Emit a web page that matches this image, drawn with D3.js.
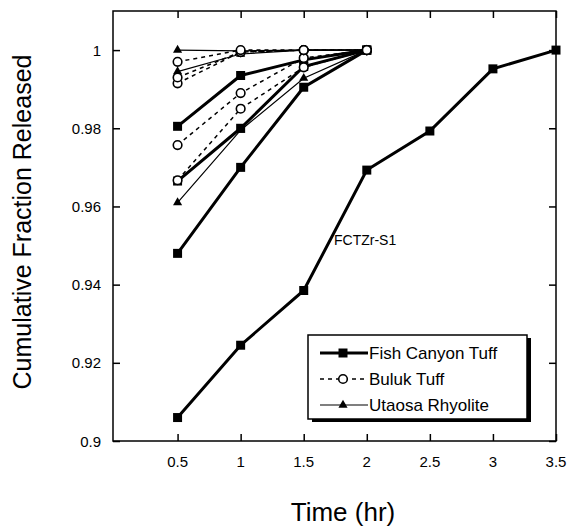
<!DOCTYPE html>
<html>
<head>
<meta charset="utf-8">
<script src="https://cdn.jsdelivr.net/npm/d3@7"></script>
<style>
  body { margin: 0; background: #fff; }
  text { font-family: "Liberation Sans", Arial, Helvetica, sans-serif; fill: #000; }
</style>
</head>
<body>
<div id="chart"></div>
<script>
  // time steps (hr)
  let times = [0.5, 1, 1.5, 2, 2.5, 3, 3.5]

  // Fish Canyon Tuff runs
  let fishS1 = [0.906, 0.9245, 0.9385, 0.9693, 0.9793, 0.9952, 1.0]
  let fish2  = [0.948, 0.970, 0.9905, 1.0]
  let fish3  = [0.9805, 0.9935, 0.9975, 1.0]
  let fish4  = [0.9665, 0.980, 0.9958, 1.0]

  // Buluk Tuff runs
  let buluk1 = [0.9757, 0.989, 0.998, 1.0]
  let buluk2 = [0.9667, 0.985, 0.9956, 1.0]
  let buluk3 = [0.9915, 0.9995, 1.0, 1.0]
  let buluk4 = [0.993, 0.9995, 1.0, 1.0]
  let buluk5 = [0.997, 1.0, 1.0, 1.0]

  // Utaosa Rhyolite runs
  let utaosa1 = [1.0, 0.9998, 1.0, 1.0]
  let utaosa2 = [0.9945, 0.999, 1.0, 1.0]
  let utaosa3 = [0.961, 0.9795, 0.9928, 1.0]

  let xTicks      = [0.5, 1, 1.5, 2, 2.5, 3, 3.5]
  let xTickLabels = ['0.5', '1', '1.5', '2', '2.5', '3', '3.5']
  let yTicks      = [0.9, 0.92, 0.94, 0.96, 0.98, 1]
  let yTickLabels = ['0.9', '0.92', '0.94', '0.96', '0.98', '1']

  let seriesNames = ['Fish Canyon Tuff', 'Buluk Tuff', 'Utaosa Rhyolite']

  let width = 568, height = 526,
      mLeft = 113, mRight = 556, mTop = 11, mBottom = 441

  let x = d3.scaleLinear().domain([0, 3.5]).range([mLeft + 1.5, mRight])
  let y = d3.scaleLinear().domain([0.9, 1.01]).range([mBottom, mTop])

  let styles = {
    fish:   { width: 3,   dash: null,  marker: 'square' },
    buluk:  { width: 1.5, dash: '4,4', marker: 'circle' },
    utaosa: { width: 1.2, dash: null,  marker: 'triangle' }
  }

  let runs = [
    { kind: 'utaosa', values: utaosa1 },
    { kind: 'utaosa', values: utaosa2 },
    { kind: 'utaosa', values: utaosa3 },
    { kind: 'fish',   values: fish2 },
    { kind: 'fish',   values: fish3 },
    { kind: 'fish',   values: fish4 },
    { kind: 'fish',   values: fishS1 },
    { kind: 'buluk',  values: buluk1 },
    { kind: 'buluk',  values: buluk2 },
    { kind: 'buluk',  values: buluk3 },
    { kind: 'buluk',  values: buluk4 },
    { kind: 'buluk',  values: buluk5 }
  ].map(function(r) {
    r.points = r.values.map(function(v, i) { return { t: times[i], v: v } })
    return r })

  let svg = d3.select('#chart')
              .append('svg:svg')
              .attr('width', width)
              .attr('height', height)

  let line = d3.line()
               .x(function(d) { return x(d.t) })
               .y(function(d) { return y(d.v) })

  // frame
  svg.append('rect')
    .attr('x', mLeft).attr('y', mTop)
    .attr('width', mRight - mLeft).attr('height', mBottom - mTop)
    .attr('fill', 'none').attr('stroke', '#000').attr('stroke-width', 1.5)

  // axes with inward ticks on all four sides
  svg.append('g')
    .attr('transform', 'translate(0,' + mBottom + ')')
    .call(d3.axisTop(x).tickValues(xTicks).tickSize(7).tickFormat(''))
  svg.append('g')
    .attr('transform', 'translate(0,' + mTop + ')')
    .call(d3.axisBottom(x).tickValues(xTicks).tickSize(7).tickFormat(''))
  svg.append('g')
    .attr('transform', 'translate(' + mLeft + ',0)')
    .call(d3.axisRight(y).tickValues(yTicks).tickSize(7).tickFormat(''))
  svg.append('g')
    .attr('transform', 'translate(' + mRight + ',0)')
    .call(d3.axisLeft(y).tickValues(yTicks).tickSize(7).tickFormat(''))
  svg.selectAll('.domain').remove()
  svg.selectAll('.tick line').attr('stroke-width', 1.5)

  // tick labels
  svg.selectAll('text.xlab').data(xTicks)
    .enter().append('text')
      .attr('class', 'xlab')
      .attr('x', function(d) { return x(d) })
      .attr('y', 467)
      .attr('text-anchor', 'middle')
      .attr('font-size', 15)
      .text(function(d, i) { return xTickLabels[i] })

  svg.selectAll('text.ylab').data(yTicks)
    .enter().append('text')
      .attr('class', 'ylab')
      .attr('x', 101)
      .attr('y', function(d) { return y(d) + 5.5 })
      .attr('text-anchor', 'end')
      .attr('font-size', 15)
      .text(function(d, i) { return yTickLabels[i] })

  // axis titles
  svg.append('text')
    .attr('transform', 'translate(31,222) rotate(-90)')
    .attr('text-anchor', 'middle')
    .attr('font-size', 25)
    .text('Cumulative Fraction Released')

  svg.append('text')
    .attr('x', 343).attr('y', 521)
    .attr('text-anchor', 'middle')
    .attr('font-size', 26)
    .text('Time (hr)')

  // lines
  let paths = svg.append('g')
  paths.selectAll('path').data(runs)
    .enter().append('path')
      .attr('d', function(d) { return line(d.points) })
      .attr('fill', 'none')
      .attr('stroke', '#000')
      .attr('stroke-width', function(d) { return styles[d.kind].width })
      .attr('stroke-dasharray', function(d) { return styles[d.kind].dash })

  function drawMarker(g, kind, cx, cy) {
    if (kind === 'circle') {
      g.append('circle').attr('cx', cx).attr('cy', cy).attr('r', 4.3)
        .attr('fill', '#fff').attr('stroke', '#000').attr('stroke-width', 1.6)
    } else {
      let sym = kind === 'square' ? d3.symbolSquare : d3.symbolTriangle
      let size = kind === 'square' ? 81 : 36
      g.append('path')
        .attr('d', d3.symbol().type(sym).size(size)())
        .attr('transform', 'translate(' + cx + ',' + cy + ')')
        .attr('fill', '#000')
    }
  }

  // markers
  let marks = svg.append('g')
  runs.forEach(function(r) {
    r.points.forEach(function(p) {
      drawMarker(marks, styles[r.kind].marker, x(p.t), y(p.v)) }) })

  // annotation
  svg.append('text')
    .attr('x', 334).attr('y', 245)
    .attr('font-size', 14)
    .text('FCTZr-S1')

  // legend
  let lg = svg.append('g')
  lg.append('rect')
    .attr('x', 312).attr('y', 338).attr('width', 219).attr('height', 84)
    .attr('fill', '#000')
  lg.append('rect')
    .attr('x', 308).attr('y', 335).attr('width', 219).attr('height', 84)
    .attr('fill', '#fff').attr('stroke', '#000').attr('stroke-width', 1.5)

  let legendKinds = ['fish', 'buluk', 'utaosa']
  legendKinds.forEach(function(k, i) {
    let ly = 353 + i * 26
    lg.append('line')
      .attr('x1', 320).attr('x2', 368).attr('y1', ly).attr('y2', ly)
      .attr('stroke', '#000')
      .attr('stroke-width', styles[k].width)
      .attr('stroke-dasharray', styles[k].dash)
    drawMarker(lg, styles[k].marker, 343, ly)
    lg.append('text')
      .attr('x', 369).attr('y', ly + 6)
      .attr('font-size', 17)
      .text(seriesNames[i])
  })
</script>
</body>
</html>
